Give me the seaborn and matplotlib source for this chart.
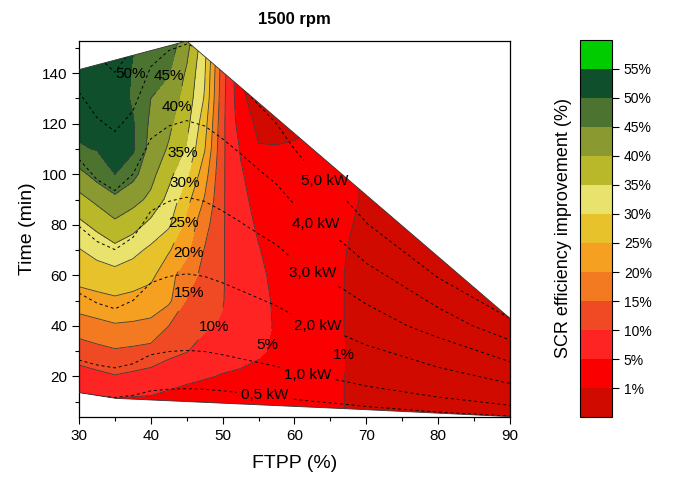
import numpy as np
import matplotlib
matplotlib.use("Agg")
import matplotlib.pyplot as plt
import seaborn as sns
from matplotlib.patches import Polygon

# grid: FTPP columns, time rows
ftpp = [30, 32.5, 35, 37.5, 40, 42.5, 45, 47.5, 50, 52.5, 55, 57.5, 60, 65, 70, 80, 90]
time = [0, 10, 20, 30, 40, 50, 60, 70, 80, 90, 100, 110, 120, 130, 140, 150, 160]

# SCR efficiency improvement (%)
eff = [
    [0, 0, 0, 0, 0, 0, 0, 0, 0, 0, 0.3, 0.5, 1.2, 1.5, 0.2, 0, 0],
    [3.5, 3.8, 4.3, 4.0, 4.0, 3.5, 2.2, 2.0, 2.4, 2.5, 2.0, 1.8, 2.0, 1.5, 0.2, 0, 0],
    [7.9, 8.8, 9.7, 9.0, 8.2, 6.8, 6.3, 5.4, 4.7, 4.4, 4.0, 3.0, 2.8, 1.5, 0.2, 0, 0],
    [12.6, 13.6, 14.5, 14.0, 13.3, 11.5, 10.2, 8.3, 7.2, 6.3, 5.5, 4.3, 3.4, 1.5, 0.2, 0, 0],
    [17.4, 18.5, 19.5, 19.2, 18.8, 15.0, 12.5, 10.6, 9.6, 7.3, 6.2, 4.6, 3.6, 1.5, 0.2, 0, 0],
    [22.8, 23.6, 24.3, 23.7, 22.6, 21.0, 14.6, 12.0, 10.2, 7.6, 6.4, 4.3, 3.5, 1.5, 0.2, 0, 0],
    [26.8, 27.5, 28.1, 27.3, 26.2, 21.5, 17.7, 13.3, 10.3, 7.6, 6.0, 3.8, 3.3, 1.5, 0.2, 0, 0],
    [29.7, 31.7, 33.6, 31.4, 29.0, 25.5, 21.1, 14.7, 10.3, 7.3, 5.2, 3.4, 3.0, 1.5, 0.4, 0, 0],
    [33.8, 36.3, 38.9, 37.1, 33.5, 30.8, 23.3, 16.8, 10.4, 6.8, 4.4, 3.0, 2.6, 1.5, 0.7, 0, 0],
    [38.5, 41.1, 43.7, 41.5, 39.0, 33.5, 26.6, 19.6, 10.5, 6.2, 3.5, 2.5, 2.2, 1.4, 0.9, 0, 0],
    [43.5, 46.8, 50.0, 46.5, 41.5, 36.5, 30.8, 22.2, 10.6, 5.5, 2.6, 1.8, 1.7, 1.4, 0.9, 0, 0],
    [49.6, 50.2, 51.5, 50.8, 43.0, 39.5, 34.5, 25.3, 10.8, 4.6, 1.2, 1.1, 1.15, 1.4, 0.9, 0, 0],
    [51.0, 51.8, 52.5, 50.5, 44.0, 41.0, 36.5, 27.1, 11.0, 2.8, 0.3, 0.5, 0.7, 1.2, 0.9, 0, 0],
    [52.0, 52.5, 53.0, 49.3, 45.0, 42.8, 38.0, 29.5, 11.5, 1.5, 0.0, 0.0, 0.5, 1.0, 0.9, 0, 0],
    [53.0, 53.3, 53.5, 49.5, 46.5, 45.3, 39.3, 30.5, 12.0, 1.0, 0.0, 0.0, 0.5, 1.0, 0.9, 0, 0],
    [53.5, 53.8, 54.0, 50.3, 48.5, 47.5, 41.5, 31.5, 13.0, 1.0, 0.0, 0.0, 0.5, 1.0, 0.9, 0, 0],
    [54.0, 54.0, 54.0, 51.0, 49.5, 49.0, 44.0, 33.0, 14.0, 1.0, 0.0, 0.0, 0.5, 1.0, 0.9, 0, 0],
]

# power (kW) on its own coarse grid
p_ftpp = [30, 32.5, 35, 37.5, 40, 42.5, 45, 47.5, 50, 52.5, 55, 57.5, 60, 62.5, 66.6, 70, 80, 90]
p_time = [0, 40, 80, 120, 160]
power = [
    [0] * 18,
    [1.51, 1.63, 1.71, 1.60, 1.40, 1.34, 1.32, 1.34, 1.40, 1.48, 1.57, 1.67, 1.82, 1.97, 2.19, 2.47, 3.39, 4.65],
    [3.02, 3.27, 3.42, 3.20, 2.81, 2.69, 2.64, 2.69, 2.81, 2.96, 3.14, 3.33, 3.64, 3.94, 4.37, 4.94, 6.78, 9.30],
    [4.53, 4.90, 5.13, 4.80, 4.21, 4.03, 3.96, 4.03, 4.21, 4.44, 4.71, 5.00, 5.46, 5.91, 6.56, 7.41, 10.17, 13.95],
    [6.04, 6.53, 6.84, 6.40, 5.61, 5.37, 5.28, 5.37, 5.61, 5.93, 6.28, 6.67, 7.27, 7.88, 8.74, 9.88, 13.56, 18.60],
]

# measured domain outline
edge_ftpp = [30, 35.2, 66.6, 90, 90, 45, 30]
edge_time = [13.6, 11.3, 7.3, 4.1, 43, 152.7, 141.4]

levels = [-5, 1, 5, 10, 15, 20, 25, 30, 35, 40, 45, 50, 55, 70]
tick_levels = [1, 5, 10, 15, 20, 25, 30, 35, 40, 45, 50, 55]
colors = ["#d10a00", "#fa0000", "#ff2424", "#ef4a24", "#f47a22", "#f5a020",
          "#e8c22a", "#e9e36e", "#b8b82a", "#8a9a30", "#4c7430", "#0f4f2c", "#00cc00"]
kw_levels = [0.5, 1, 2, 3, 4, 5, 6, 7]

eff_labels = {50: (36.8, 139.6), 45: (42.7, 138.9), 40: (43.5, 126.6), 35: (44.3, 108.5),
              30: (44.9, 96.3), 25: (44.2, 80.9), 20: (45.2, 69.0), 15: (45.5, 52.9),
              10: (48.9, 39.4), 5: (56.2, 32.3), 1: (67.2, 28.4)}
kw_labels = {0.5: (55.9, 12.0), 1: (61.9, 21.8), 2: (63.1, 38.9), 3: (62.6, 61.3),
             4: (62.9, 80.4), 5: (63.6, 94.8)}

sns.set_style("ticks")
plt.rcParams["font.family"] = ["Liberation Sans", "DejaVu Sans"]
plt.rcParams["xtick.direction"] = "out"
plt.rcParams["ytick.direction"] = "out"
for k in ("text.color", "axes.labelcolor", "xtick.color", "ytick.color", "axes.edgecolor"):
    plt.rcParams[k] = "black"

fig = plt.figure(figsize=(6.85, 4.8), dpi=100)
ax = fig.add_axes([0.1153, 0.131, 0.6292, 0.784])
cax = fig.add_axes([0.8467, 0.131, 0.0467, 0.786])

poly = Polygon(np.column_stack([edge_ftpp, edge_time]), closed=True, facecolor="none",
               edgecolor="#333333", lw=0.6, zorder=3)
ax.add_patch(poly)

X, Y = np.meshgrid(ftpp, time)
Z = np.array(eff)
cf = ax.contourf(X, Y, Z, levels=levels, colors=colors)
cf.set_clip_path(poly)

# one contour set per level so each label lands on its own line
for lev in tick_levels:
    if lev == 55:
        continue
    cl = ax.contour(X, Y, Z, levels=[lev], colors="#3c3c3c", linewidths=0.6)
    cl.set_clip_path(poly)
    if lev in eff_labels:
        txt = ax.clabel(cl, inline=True, fontsize=11, colors="k", manual=[eff_labels[lev]],
                        fmt=lambda v: f"{v:g}%")
        for t in txt:
            t.set_rotation(0)

PX, PY = np.meshgrid(p_ftpp, p_time)
P = np.array(power)
for lev in kw_levels:
    cp = ax.contour(PX, PY, P, levels=[lev], colors="k", linewidths=0.7)
    cp.set_linestyle((0, (3, 3)))
    cp.set_clip_path(poly)
    if lev in kw_labels:
        txt = ax.clabel(cp, inline=True, fontsize=11, colors="k", manual=[kw_labels[lev]],
                        fmt=lambda v: f"{v:.1f} kW".replace(".", ","))
        for t in txt:
            t.set_rotation(0)

ax.set_xlim(30, 90)
ax.set_ylim(3.9, 152.8)
ax.set_xticks(range(30, 91, 10))
ax.set_xticks(range(35, 90, 10), minor=True)
ax.set_yticks(range(20, 141, 20))
ax.set_yticks(range(10, 152, 20), minor=True)
ax.tick_params(labelsize=11, length=5, width=0.8)
ax.tick_params(which="minor", length=3, width=0.8)
for s in ax.spines.values():
    s.set_linewidth(0.9)
ax.set_xlabel("FTPP (%)", fontsize=14, labelpad=9)
ax.set_ylabel("Time (min)", fontsize=14, labelpad=4)
ax.set_title("1500 rpm", fontsize=12, fontweight="bold", pad=12)

cb = fig.colorbar(cf, cax=cax, spacing="uniform", ticks=tick_levels)
cb.ax.set_yticklabels([f"{v}%" for v in tick_levels])
cb.ax.tick_params(labelsize=10, length=5, width=0.8)
cb.outline.set_linewidth(0.8)
cb.ax.yaxis.set_label_position("left")
cb.set_label("SCR efficiency improvement (%)", fontsize=13, labelpad=6)

fig.savefig("out.png", dpi=100)
